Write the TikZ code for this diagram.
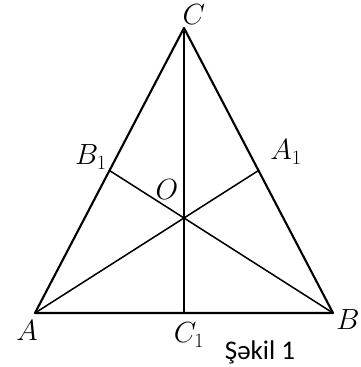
\documentclass[tikz,border=0pt]{standalone}
\usepackage{fontspec}
\newfontfamily\capfont{Carlito}
\usepackage{tikz}
\usetikzlibrary{positioning, calc}

\begin{document}
\begin{tikzpicture}[
    x=0.03cm, y=-0.03cm,
    side/.style={line width=1.8pt, line cap=round, line join=round},
    med/.style={line width=1.3pt},
    lbl/.style={font=\fontsize{23}{27}\selectfont, inner sep=0pt},
    every node/.style={inner sep=0pt}
]
\useasboundingbox (0,0) rectangle (360,367);

% Vertices
\coordinate (A) at (35,313);
\coordinate (B) at (333,313);
\coordinate (C) at (184,28);

% Midpoints and centroid
\coordinate (A1) at ($(B)!0.5!(C)$);
\coordinate (B1) at ($(A)!0.5!(C)$);
\coordinate (C1) at ($(A)!0.5!(B)$);
\coordinate (O) at ($1/3*(A)+1/3*(B)+1/3*(C)$);

% Medians
\draw[med] (A) -- (A1);
\draw[med] (B) -- (B1);
\draw[med] (C) -- (C1);

% Triangle
\draw[side] (A) -- (B) -- (C) -- cycle;

% Labels
\node[lbl] (lA) at (27,331) {$A$};
\node[lbl] (lB) at (348,320) {$B$};
\node[lbl] (lC) at (194,15) {$C$};
\node[lbl] (lA1) at (286,152) {$A_1$};
\node[lbl] (lB1) at (91,157) {$B_1$};
\node[lbl] (lC1) at (189,335) {$C_1$};
\node[lbl] (lO) at (167,190) {$O$};
\node[font=\capfont\fontsize{23}{27}\selectfont] (cap) at (260,352) {Şəkil 1};

\end{tikzpicture}
\end{document}
